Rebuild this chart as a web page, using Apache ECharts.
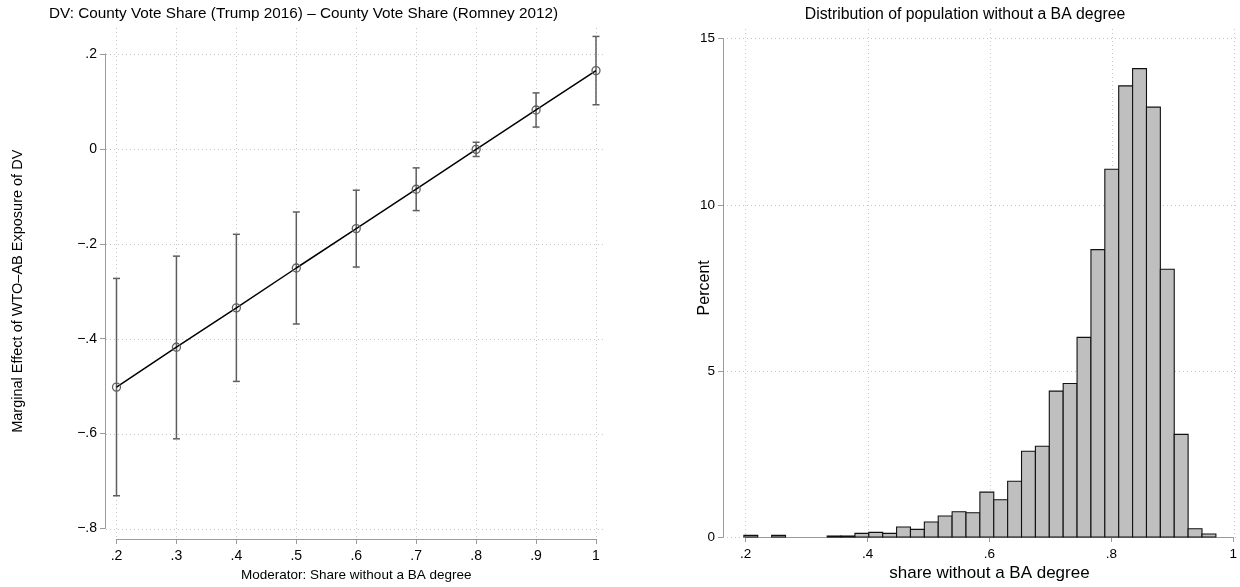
<!DOCTYPE html>
<html>
<head>
<meta charset="utf-8">
<script src="https://cdn.jsdelivr.net/npm/echarts@6/dist/echarts.min.js"></script>
<style>
  html, body { margin: 0; padding: 0; background: #fff; }
  #chart { width: 1240px; height: 587px; }
</style>
</head>
<body>
<div id="chart"></div>
<script>
// ---------- Left panel: marginal effects ----------
const moderatorValues = [0.2, 0.3, 0.4, 0.5, 0.6, 0.7, 0.8, 0.9, 1.0];
const marginalEffect = [-0.502, -0.418, -0.335, -0.251, -0.168, -0.085, -0.001, 0.082, 0.165];
const ciLower = [-0.731, -0.611, -0.490, -0.369, -0.249, -0.130, -0.016, 0.046, 0.093];
const ciUpper = [-0.273, -0.226, -0.180, -0.133, -0.087, -0.040, 0.014, 0.118, 0.237];
const leftXTicks = [0.2, 0.3, 0.4, 0.5, 0.6, 0.7, 0.8, 0.9, 1];
const leftYTicks = [0.2, 0, -0.2, -0.4, -0.6, -0.8];

// ---------- Right panel: histogram ----------
const binStart = 0.197;
const binWidth = 0.02278;
const binPercent = [0.05, 0, 0.05, 0, 0, 0, 0.03, 0.03, 0.11, 0.14, 0.11, 0.30, 0.23, 0.45, 0.63, 0.76, 0.73,
  1.35, 1.12, 1.68, 2.58, 2.73, 4.39, 4.62, 6.01, 8.65, 11.07, 13.58, 14.10, 12.94, 8.06, 3.09, 0.25, 0.09];
const rightXTicks = [0.2, 0.4, 0.6, 0.8, 1];
const rightYTicks = [0, 5, 10, 15];

const FONT = "'Liberation Sans', Arial, Helvetica, sans-serif";
const AXIS_GRAY = '#9a9a9a';
const GRID_COLOR = '#c6c6c6';
const TEXT = '#000000';

function stataNum(v) {
  if (Math.abs(v) < 1e-9) return '0';
  const a = Math.abs(v);
  let s = (Math.round(a * 10) / 10 === Math.round(a)) ? String(Math.round(a)) : a.toFixed(1).replace(/^0/, '');
  return (v < 0 ? '\u2212' : '') + s;
}

const errData = moderatorValues.map((x, i) => [x, ciLower[i], ciUpper[i]]);
const lineData = moderatorValues.map((x, i) => [x, marginalEffect[i]]);
const histData = binPercent.map((p, i) => [binStart + i * binWidth, binStart + (i + 1) * binWidth, p]);

function gridAxis(gridIndex, min, max, ticks) {
  return {
    type: 'value', gridIndex, min, max,
    axisLine: { show: false, onZero: false },
    axisTick: { show: false, customValues: ticks },
    axisLabel: { show: false, customValues: ticks },
    splitLine: { show: true, lineStyle: { color: GRID_COLOR, width: 1, type: [1, 3] } }
  };
}

function dataAxis(gridIndex, min, max, ticks, offset, margin, labelSize, extra) {
  return Object.assign({
    type: 'value', gridIndex, min, max, offset,
    nameMoveOverlap: false,
    axisLine: { show: true, onZero: false, lineStyle: { color: AXIS_GRAY, width: 1 } },
    axisTick: { show: true, length: 5, customValues: ticks, lineStyle: { color: AXIS_GRAY, width: 1 } },
    axisLabel: { show: true, customValues: ticks, margin, color: TEXT, fontSize: labelSize, fontFamily: FONT, formatter: stataNum },
    splitLine: { show: false }
  }, extra);
}

const option = {
  animation: false,
  backgroundColor: '#ffffff',
  grid: [
    { left: 106, top: 28, width: 497, height: 512 },           // left gridlines
    { left: 116.5, top: 54, width: 479.5, height: 475.5 },     // left data
    { left: 723, top: 29, width: 516, height: 508 },           // right gridlines
    { left: 745.7, top: 38.7, width: 488.3, height: 498.3 }    // right data
  ],
  xAxis: [
    gridAxis(0, 0.18248, 1.01168, leftXTicks),
    dataAxis(1, 0.2, 1, leftXTicks, 10.5, 10, 14, {
      name: 'Moderator: Share without a BA degree', nameLocation: 'middle', nameGap: 29,
      nameTextStyle: { color: TEXT, fontSize: 13.5, fontFamily: FONT }
    }),
    gridAxis(2, 0.16281, 1.0082, rightXTicks),
    dataAxis(3, 0.2, 1, rightXTicks, 0, 10, 13.5, {
      name: 'share without a BA degree', nameLocation: 'middle', nameGap: 28,
      nameTextStyle: { color: TEXT, fontSize: 17, fontFamily: FONT }
    })
  ],
  yAxis: [
    gridAxis(0, -0.82208, 0.25468, leftYTicks),
    dataAxis(1, -0.8, 0.2, leftYTicks, 11.5, 8, 14, {
      name: 'Marginal Effect of WTO\u2013AB Exposure of DV', nameLocation: 'middle', nameGap: 80,
      nameTextStyle: { color: TEXT, fontSize: 14.5, fontFamily: FONT }
    }),
    gridAxis(2, 0, 15.292, rightYTicks),
    dataAxis(3, 0, 15, rightYTicks, 22.7, 8, 13.5, {
      name: 'Percent', nameLocation: 'middle', nameGap: 10,
      nameTextStyle: { color: TEXT, fontSize: 16, fontFamily: FONT }
    })
  ],
  graphic: [
    { type: 'text', x: 49, y: 14, style: { text: 'DV: County Vote Share (Trump 2016) \u2013 County Vote Share (Romney 2012)', fill: TEXT, font: '15.3px ' + FONT, align: 'left', verticalAlign: 'middle' } },
    { type: 'text', x: 965, y: 15, style: { text: 'Distribution of population without a BA degree', fill: TEXT, font: '15.8px ' + FONT, align: 'center', verticalAlign: 'middle' } }
  ],
  series: [
    {
      type: 'custom', name: 'CI', xAxisIndex: 1, yAxisIndex: 1, clip: false,
      data: errData,
      encode: { x: 0, y: [1, 2] },
      renderItem: function (params, api) {
        const x = api.value(0), lo = api.value(1), hi = api.value(2);
        const pLo = api.coord([x, lo]);
        const pHi = api.coord([x, hi]);
        const cap = 3.5;
        const mk = () => ({ stroke: '#5e5e5e', lineWidth: 1.5, fill: null });
        return {
          type: 'group',
          children: [
            { type: 'line', shape: { x1: pLo[0], y1: pLo[1], x2: pHi[0], y2: pHi[1] }, style: mk() },
            { type: 'line', shape: { x1: pLo[0] - cap, y1: pLo[1], x2: pLo[0] + cap, y2: pLo[1] }, style: mk() },
            { type: 'line', shape: { x1: pHi[0] - cap, y1: pHi[1], x2: pHi[0] + cap, y2: pHi[1] }, style: mk() }
          ]
        };
      }
    },
    {
      type: 'line', name: 'Marginal effect', xAxisIndex: 1, yAxisIndex: 1,
      data: lineData,
      symbol: 'circle', symbolSize: 8,
      lineStyle: { color: '#000000', width: 1.5 },
      itemStyle: { color: 'rgba(0,0,0,0)', borderColor: '#5e5e5e', borderWidth: 1.3 },
      z: 3
    },
    {
      type: 'custom', name: 'Histogram', xAxisIndex: 3, yAxisIndex: 3, clip: false,
      data: histData,
      encode: { x: [0, 1], y: 2 },
      renderItem: function (params, api) {
        const l = api.value(0), r = api.value(1), p = api.value(2);
        if (!(p > 0)) return null;
        const tl = api.coord([l, p]);
        const br = api.coord([r, 0]);
        return {
          type: 'rect',
          shape: { x: tl[0], y: tl[1], width: br[0] - tl[0], height: br[1] - tl[1] },
          style: { fill: '#bfbfbf', stroke: '#111111', lineWidth: 1.1 }
        };
      }
    }
  ]
};

const chart = echarts.init(document.getElementById('chart'), null, { renderer: 'canvas' });
chart.setOption(option);
</script>
</body>
</html>
